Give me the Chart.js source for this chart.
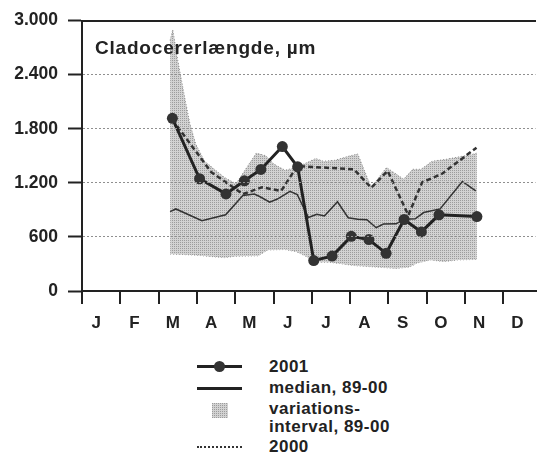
<!DOCTYPE html>
<html>
<head>
<meta charset="utf-8">
<script src="https://cdn.jsdelivr.net/npm/chart.js@4.4.1/dist/chart.umd.min.js"></script>
<style>
  body { margin: 0; background: #fff; }
  #wrap { position: relative; width: 541px; height: 460px; font-family: 'Liberation Sans', Arial, sans-serif; font-weight: bold; color: #222; }
  #chart-box { position: absolute; left: 0; top: 0; width: 541px; height: 349px; }
  #title { position: absolute; left: 95px; top: 38px; font-size: 19px; line-height: 19px; letter-spacing: 0.8px; white-space: nowrap; }
  .legend-text { position: absolute; left: 269px; font-size: 17px; line-height: 20px; letter-spacing: 0.5px; white-space: nowrap; }
  .legend-line { position: absolute; left: 197px; width: 45px; height: 3px; background: #222; }
  .legend-dot { position: absolute; left: 214px; width: 11px; height: 11px; border-radius: 50%; background: #333; }
  .legend-dots { position: absolute; left: 197px; width: 45px; border-top: 2px dotted #333; }
  #legend-band { position: absolute; left: 212px; top: 403px; width: 16px; height: 15px; }
</style>
</head>
<body>
<div id="wrap">
  <div id="chart-box"><canvas id="chart"></canvas></div>
  <div id="title">Cladocererlængde, µm</div>

  <div class="legend-line" style="top: 365px"></div>
  <div class="legend-dot" style="top: 361px"></div>
  <div class="legend-text" style="top: 357px">2001</div>

  <div class="legend-line" style="top: 387px"></div>
  <div class="legend-text" style="top: 378px">median, 89-00</div>

  <div id="legend-band"></div>
  <div class="legend-text" style="top: 400px; line-height: 18px">variations-<br>interval, 89-00</div>

  <div class="legend-dots" style="top: 446px"></div>
  <div class="legend-text" style="top: 437px">2000</div>
</div>

<script>
const monthLabels = ['J', 'F', 'M', 'A', 'M', 'J', 'J', 'A', 'S', 'O', 'N', 'D']
const yTicks = [0, 600, 1200, 1800, 2400, 3000]

// x values are months since 1 January
const x2001 = [2.36, 3.07, 3.76, 4.24, 4.67, 5.23, 5.63, 6.05, 6.53, 7.03, 7.49, 7.94, 8.41, 8.86, 9.32, 10.31]
const values2001 = [1915, 1245, 1077, 1222, 1348, 1602, 1377, 338, 387, 606, 570, 418, 793, 655, 845, 826]

const x2000 = [2.36, 3.37, 4.2, 4.7, 5.2, 5.62, 7.1, 7.55, 7.98, 8.52, 8.88, 9.4, 10.3]
const values2000 = [1900, 1320, 1075, 1150, 1110, 1385, 1350, 1145, 1332, 840, 1205, 1300, 1590]

const xMedian = [2.30, 2.45, 3.13, 3.75, 4.2, 4.5, 4.65, 4.9, 5.1, 5.43, 5.62, 5.91, 6.13, 6.33, 6.67, 6.95, 7.2, 7.44, 7.68, 7.87, 8.2, 8.42, 8.7, 8.92, 9.35, 9.93, 10.28]
const valuesMedian = [880, 910, 780, 845, 1060, 1075, 1045, 985, 1020, 1105, 1070, 815, 852, 832, 990, 812, 795, 790, 702, 742, 745, 797, 800, 870, 910, 1215, 1110]

const xBandHigh = [2.30, 2.37, 2.5, 2.68, 2.82, 2.97, 3.2, 3.72, 4.02, 4.55, 4.8, 5.0, 5.3, 5.6, 6.1, 6.3, 6.6, 7.0, 7.2, 7.55, 7.95, 8.4, 8.63, 8.85, 9.14, 9.5, 10.18, 10.31]
const bandHigh = [2780, 2900, 2560, 2150, 1850, 1630, 1440, 1260, 1190, 1530, 1500, 1410, 1340, 1370, 1470, 1440, 1450, 1500, 1520, 1150, 1370, 1240, 1350, 1350, 1440, 1460, 1515, 1530]

const xBandLow = [2.30, 2.9, 3.72, 4.0, 4.6, 4.85, 5.3, 5.6, 5.87, 6.05, 6.45, 6.8, 7.15, 7.7, 8.2, 8.55, 8.75, 9.1, 9.45, 9.8, 10.31]
const bandLow = [410, 400, 370, 385, 390, 455, 460, 435, 380, 320, 320, 300, 280, 265, 250, 265, 310, 345, 325, 345, 350]

const fontFamily = "'Liberation Sans', Arial, sans-serif"
const ink = '#222'
const xMax = 11.84

const toPoints = (xs, ys) => xs.map((x, i) => ({ x: x, y: ys[i] }))
const formatThousands = (v) => String(v).replace(/\B(?=(\d{3})+(?!\d))/g, '.')

const canvas = document.getElementById('chart')

const tile = document.createElement('canvas')
tile.width = 2
tile.height = 2
const tileCtx = tile.getContext('2d')
tileCtx.fillStyle = '#d2d2d2'
tileCtx.fillRect(0, 0, 2, 2)
tileCtx.fillStyle = '#9c9c9c'
tileCtx.fillRect(0, 0, 1, 1)
const stipple = canvas.getContext('2d').createPattern(tile, 'repeat')
document.getElementById('legend-band').style.background = 'url(' + tile.toDataURL() + ')'

const monthTicks = []
monthLabels.forEach((m, i) => {
  monthTicks.push({ value: i })
  monthTicks.push({ value: i + 0.5 })
})

const chart = new Chart(canvas, {
  type: 'line',
  data: {
    datasets: [
      {
        label: '2001',
        data: toPoints(x2001, values2001),
        borderColor: ink,
        backgroundColor: '#333',
        borderWidth: 3,
        pointRadius: 5.5,
        pointBorderWidth: 0,
        order: 0
      },
      {
        label: 'median, 89-00',
        data: toPoints(xMedian, valuesMedian),
        borderColor: '#333',
        borderWidth: 1.5,
        pointRadius: 0,
        order: 2
      },
      {
        label: 'variations-interval, 89-00',
        data: toPoints(xBandHigh, bandHigh),
        borderColor: '#8c8c8c',
        borderWidth: 1,
        borderDash: [1, 2],
        backgroundColor: stipple,
        fill: '+1',
        pointRadius: 0,
        order: 3
      },
      {
        label: 'variations-interval, 89-00 (min)',
        data: toPoints(xBandLow, bandLow),
        borderColor: '#8c8c8c',
        borderWidth: 1,
        borderDash: [1, 2],
        pointRadius: 0,
        fill: false,
        order: 4
      },
      {
        label: '2000',
        data: toPoints(x2000, values2000),
        borderColor: '#333',
        borderWidth: 2.5,
        borderDash: [5, 3],
        pointRadius: 0,
        order: 1
      }
    ]
  },
  options: {
    responsive: true,
    maintainAspectRatio: false,
    animation: false,
    events: [],
    layout: {
      padding: { top: 19, left: 0, right: 0, bottom: 6.6 }
    },
    elements: {
      line: { tension: 0 }
    },
    plugins: {
      legend: { display: false },
      tooltip: { enabled: false }
    },
    scales: {
      x: {
        type: 'linear',
        min: 0,
        max: xMax,
        afterBuildTicks: (scale) => { scale.ticks = monthTicks.map(t => ({ value: t.value })) },
        ticks: {
          autoSkip: false,
          maxRotation: 0,
          padding: 9,
          labelOffset: -5,
          color: ink,
          font: { family: fontFamily, size: 17, weight: 'bold' },
          callback: (value) => Number.isInteger(value) ? '' : monthLabels[Math.floor(value)]
        },
        grid: {
          drawOnChartArea: false,
          tickLength: 13,
          lineWidth: 2,
          tickColor: (ctx) => Number.isInteger(ctx.tick.value) ? ink : 'rgba(0,0,0,0)'
        },
        border: { color: ink, width: 2 }
      },
      xTop: {
        type: 'linear',
        axis: 'x',
        position: 'top',
        min: 0,
        max: xMax,
        ticks: { display: false },
        grid: { drawTicks: false, drawOnChartArea: false },
        border: { color: ink, width: 2 }
      },
      y: {
        min: yTicks[0],
        max: yTicks[yTicks.length - 1],
        afterFit: (scale) => { scale.width = 82 },
        afterBuildTicks: (scale) => { scale.ticks = yTicks.map(v => ({ value: v })) },
        ticks: {
          padding: 10,
          color: ink,
          font: { family: fontFamily, size: 17.5, weight: 'bold' },
          callback: (value) => formatThousands(value)
        },
        grid: {
          z: 1,
          lineWidth: 1,
          tickLength: 14,
          tickWidth: 2,
          tickColor: ink,
          color: (ctx) => (ctx.tick.value === 0 || ctx.tick.value === 3000) ? 'rgba(0,0,0,0)' : '#8f8f8f'
        },
        border: { z: 1, color: ink, width: 2, dash: [2, 2] }
      }
    }
  }
})
</script>
</body>
</html>
